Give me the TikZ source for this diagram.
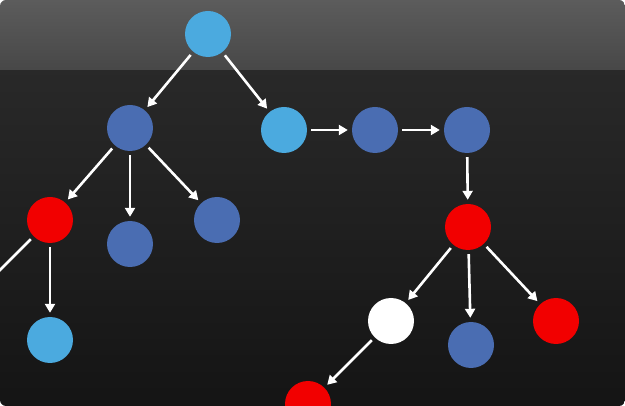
\documentclass[tikz,border=0pt]{standalone}
\usetikzlibrary{arrows.meta}
\definecolor{lblue}{HTML}{4BAADF}
\definecolor{dblue}{HTML}{4A6DB2}
\definecolor{nred}{HTML}{F20000}
\tikzset{
	ball/.style={circle, minimum size=46pt, inner sep=0pt},
	link/.style={white, line width=2.6pt, -{Triangle[length=9pt,width=10pt]}, shorten <=4pt, shorten >=4pt}
}
\begin{document}
\begin{tikzpicture}[x=1pt,y=-1pt]
	% Hintergrund
	\useasboundingbox (0,0) rectangle (625,406);
	\clip[rounded corners=6pt] (0,0) rectangle (625,406);
	\shade[top color=black!84, bottom color=black!92] (0,70) rectangle (625,406);
	\shade[top color=black!64, bottom color=black!72] (0,0) rectangle (625,70);
	
	% Knoten
	\node[ball, fill=lblue] (root) at (208,34) {};
	\node[ball, fill=dblue] (left) at (130,128) {};
	\node[ball, fill=lblue] (right) at (284,130) {};
	\node[ball, fill=dblue] (next1) at (375,130) {};
	\node[ball, fill=dblue] (next2) at (467,130) {};
	\node[ball, fill=nred] (lred) at (50,220) {};
	\node[ball, fill=dblue] (lmid) at (130,244) {};
	\node[ball, fill=dblue] (lright) at (217,220) {};
	\node[ball, fill=nred] (rred) at (468,227) {};
	\node[ball, fill=lblue] (lleaf) at (50,340) {};
	\node[ball, fill=white] (white) at (391,321) {};
	\node[ball, fill=dblue] (rmid) at (471,345) {};
	\node[ball, fill=nred] (rright) at (556,321) {};
	\node[ball, fill=nred] (bottom) at (308,404) {};
	\coordinate (out) at (-10,280);
	
	% Kanten
	\draw[link] (root) -- (left);
	\draw[link] (root) -- (right);
	\draw[link] (right) -- (next1);
	\draw[link] (next1) -- (next2);
	\draw[link] (next2) -- (rred);
	\draw[link] (left) -- (lred);
	\draw[link] (left) -- (lmid);
	\draw[link] (left) -- (lright);
	\draw[link] (lred) -- (lleaf);
	\draw[white, line width=2.6pt, shorten <=4pt] (lred) -- (out);
	\draw[link] (rred) -- (white);
	\draw[link] (rred) -- (rmid);
	\draw[link] (rred) -- (rright);
	\draw[link] (white) -- (bottom);
\end{tikzpicture}
\end{document}
